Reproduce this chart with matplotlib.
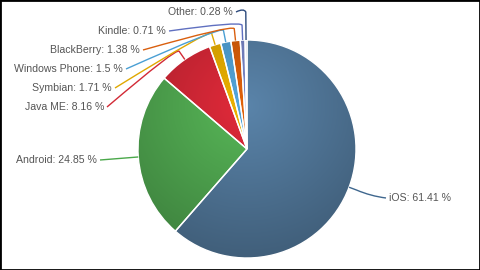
import numpy as np
import matplotlib
matplotlib.use("Agg")
import matplotlib.pyplot as plt
from matplotlib.path import Path
from matplotlib.patches import PathPatch
from matplotlib.colors import to_rgb

# ---- data ----
categories = ["iOS", "Android", "Java ME", "Symbian", "Windows Phone",
              "BlackBerry", "Kindle", "Other"]
shares = [61.41, 24.85, 8.16, 1.71, 1.5, 1.38, 0.71, 0.28]
colors = ["#5a84aa", "#58b858", "#e22a3a", "#f0b400", "#54a8de",
          "#e2620a", "#7a88cc", "#3a5c94"]
line_colors = ["#3f678e", "#4aa84a", "#d22a36", "#e0a800", "#4a9fd4",
               "#d95f0e", "#6070c0", "#2c4a7c"]

# ---- layout (pixel-like coordinates, y up) ----
W, H = 480, 270
cx, cy, R = 247, 121, 109
# label anchor (x, y_from_top), alignment, knee offset beyond radius
label_pos = [(389, 198, "left", 8), (97, 160, "right", 0), (104, 107, "right", 10),
             (112, 88, "right", 12), (123, 69, "right", 12), (140, 50, "right", 12),
             (166, 31, "right", 15), (233, 12, "right", 28)]

fig = plt.figure(figsize=(4.8, 2.7), dpi=100)
fig.patch.set_facecolor("white")
ax = fig.add_axes([0, 0, 1, 1])

wedges, _ = ax.pie(shares, colors=colors, startangle=90, counterclock=False,
                   center=(cx, cy), radius=R,
                   wedgeprops=dict(edgecolor="white", linewidth=1.0))
ax.set_xlim(0, W)
ax.set_ylim(0, H)
ax.set_aspect("equal")
ax.axis("off")

# radial gradient fill clipped to each wedge
n = 300
xs = np.linspace(cx - R, cx + R, n)
ys = np.linspace(cy - R, cy + R, n)
XX, YY = np.meshgrid(xs, ys)
gcx, gcy, gr = cx, cy + 0.4 * R, 1.4 * R
t = np.clip(np.hypot(XX - gcx, YY - gcy) / gr, 0, 1)
for w, c in zip(wedges, colors):
    base = np.array(to_rgb(c))
    fac = 1.0 - 0.28 * t
    img = np.dstack([base[0] * fac, base[1] * fac, base[2] * fac])
    im = ax.imshow(img, extent=(cx - R, cx + R, cy - R, cy + R), origin="lower",
                   zorder=1, interpolation="bilinear")
    im.set_clip_path(w)
    w.set_facecolor("none")
    w.set_zorder(2)

# labels and connectors
for w, cat, val, (lx, ly, ha, k), lc in zip(wedges, categories, shares,
                                           label_pos, line_colors):
    ly_d = H - ly
    ax.text(lx, ly_d, f"{cat}: {val:g} %", ha=ha, va="center",
            fontsize=7.6, color="#555555", family=["Liberation Sans", "DejaVu Sans"])
    a = np.deg2rad((w.theta1 + w.theta2) / 2)
    ex, ey = cx + R * np.cos(a), cy + R * np.sin(a)
    kx, ky = cx + (R + k) * np.cos(a), cy + (R + k) * np.sin(a)
    if ha == "right":
        sx = lx + 3
    else:
        sx = lx - 3
    sy = ly_d
    if k == 0:
        verts = [(sx, sy), (ex, ey)]
        codes = [Path.MOVETO, Path.LINETO]
    elif ha == "left":
        verts = [(sx, sy), (kx + 14, ky - 6), (kx, ky), (ex, ey)]
        codes = [Path.MOVETO, Path.CURVE3, Path.CURVE3, Path.LINETO]
    else:
        ctrl = (kx - 2, max(ky + 4, sy))
        verts = [(sx, sy), ctrl, (kx, ky), (ex, ey)]
        codes = [Path.MOVETO, Path.CURVE3, Path.CURVE3, Path.LINETO]
    ax.add_patch(PathPatch(Path(verts, codes), facecolor="none", edgecolor=lc,
                           linewidth=1.0, zorder=3))

# outer border
fig.patches.append(plt.Rectangle((0, 0), 1, 1, transform=fig.transFigure,
                                 fill=False, edgecolor="black", linewidth=2))

fig.savefig("out.png", dpi=100)
